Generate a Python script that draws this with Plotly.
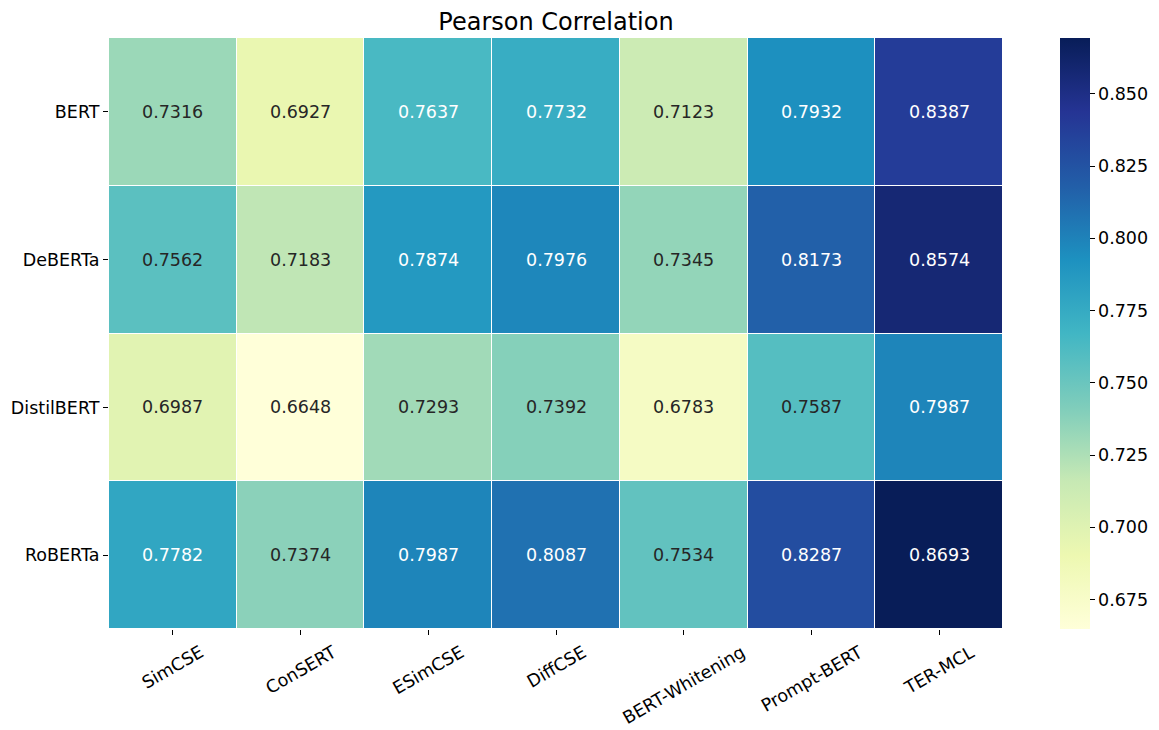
import plotly.graph_objects as go

# Pearson correlation of each method on each backbone
methods = ['SimCSE', 'ConSERT', 'ESimCSE', 'DiffCSE', 'BERT-Whitening', 'Prompt-BERT', 'TER-MCL']
models = ['BERT', 'DeBERTa', 'DistilBERT', 'RoBERTa']

bert = [0.7316, 0.6927, 0.7637, 0.7732, 0.7123, 0.7932, 0.8387]
deberta = [0.7562, 0.7183, 0.7874, 0.7976, 0.7345, 0.8173, 0.8574]
distilbert = [0.6987, 0.6648, 0.7293, 0.7392, 0.6783, 0.7587, 0.7987]
roberta = [0.7782, 0.7374, 0.7987, 0.8087, 0.7534, 0.8287, 0.8693]

z = [bert, deberta, distilbert, roberta]
zmin = min(min(r) for r in z)
zmax = max(max(r) for r in z)

# matplotlib YlGnBu
ylgnbu = ['#ffffd9', '#edf8b1', '#c7e9b4', '#7fcdbb', '#41b6c4',
          '#1d91c0', '#225ea8', '#253494', '#081d58']
colorscale = [[i / (len(ylgnbu) - 1), c] for i, c in enumerate(ylgnbu)]

FS = 17.5

fig = go.Figure(go.Heatmap(
    z=z, x=methods, y=models,
    colorscale=colorscale, zmin=zmin, zmax=zmax,
    xgap=1, ygap=1,
    colorbar=dict(
        x=1.0638, xanchor='left', y=0.5, yanchor='middle',
        len=1, lenmode='fraction', thickness=30, ypad=0, xpad=0,
        outlinewidth=0,
        tickvals=[0.675, 0.7, 0.725, 0.75, 0.775, 0.8, 0.825, 0.85],
        ticktext=['0.675', '0.700', '0.725', '0.750', '0.775', '0.800', '0.825', '0.850'],
        ticks='outside', ticklen=5, tickcolor='black',
        tickfont=dict(size=FS, color='black'),
    ),
))

# cell labels
for i, row in enumerate(z):
    for j, v in enumerate(row):
        fig.add_annotation(
            x=methods[j], y=models[i], text=f'{v:.4f}', showarrow=False,
            font=dict(size=FS, color='white' if v > 0.76 else '#262626'),
        )

# rotated x labels, centred under their ticks like matplotlib
for m in methods:
    fig.add_annotation(
        x=m, y=0, yref='paper', xref='x', text=m, showarrow=False,
        textangle=-30, xanchor='center', yanchor='top', yshift=-10,
        font=dict(size=FS, color='black'),
    )

# page body has an 8px margin, so the figure is 8px smaller each way
fig.update_layout(
    width=1151, height=722,
    margin=dict(l=101, r=156, t=30, b=101, autoexpand=False),
    paper_bgcolor='white', plot_bgcolor='white',
    font=dict(family='DejaVu Sans', size=FS, color='black'),
    title=dict(text='Pearson Correlation', x=0.5, xanchor='center', xref='paper',
               y=1 - 14 / 722, yref='container', yanchor='middle',
               font=dict(size=24, color='black')),
)
fig.update_xaxes(showticklabels=False, ticks='outside', ticklen=5, tickcolor='black',
                 showgrid=False, zeroline=False, showline=False, automargin=False)
fig.update_yaxes(autorange='reversed', ticks='outside', ticklen=5, tickcolor='black',
                 showgrid=False, zeroline=False, showline=False, automargin=False)

fig.write_html('out.html')
